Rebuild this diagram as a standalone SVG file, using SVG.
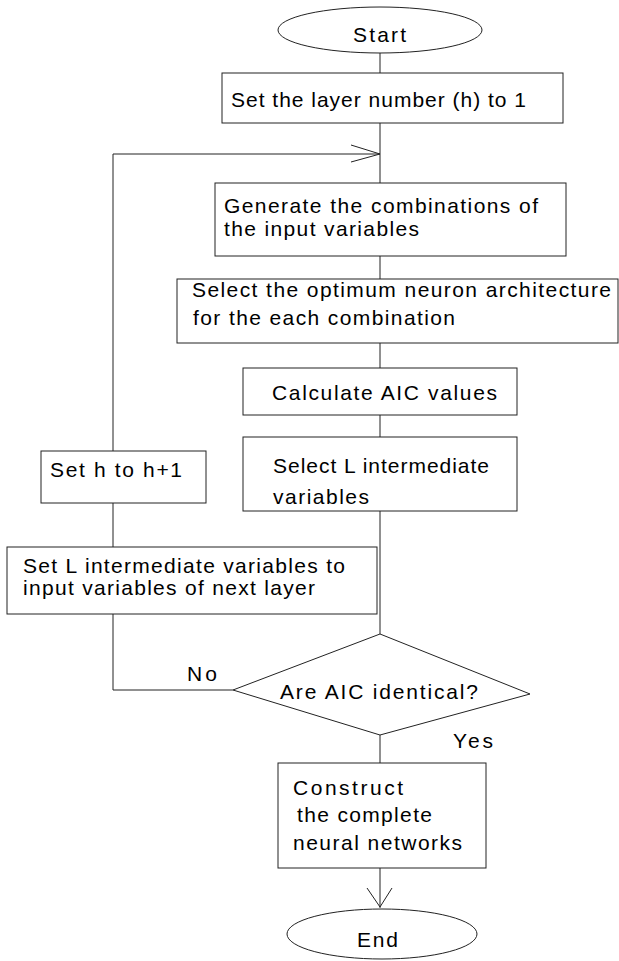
<svg xmlns="http://www.w3.org/2000/svg" width="619" height="961" viewBox="0 0 619 961">
<style>
.shape{fill:#fff;stroke:#222;stroke-width:1}
.conn{fill:none;stroke:#222;stroke-width:1}
text{font-family:"Liberation Sans",Arial,sans-serif;font-size:21px;fill:#000}
</style>
<rect width="619" height="961" fill="#fff"/>
<g id="connectors">
<line class="conn" x1="380" y1="53" x2="380" y2="73"/>
<line class="conn" x1="380" y1="123" x2="380" y2="183"/>
<line class="conn" x1="380" y1="256" x2="380" y2="279"/>
<line class="conn" x1="380" y1="343" x2="380" y2="368"/>
<line class="conn" x1="380" y1="415" x2="380" y2="437"/>
<line class="conn" x1="380" y1="511" x2="380" y2="634"/>
<line class="conn" x1="380" y1="735" x2="380" y2="763"/>
<line class="conn" x1="380" y1="868" x2="380" y2="908"/>
<polyline class="conn" points="367,888 380,907 392,888"/>
<polyline class="conn" points="233,690 113,690 113,614"/>
<line class="conn" x1="113" y1="547" x2="113" y2="503"/>
<polyline class="conn" points="113,451 113,154 380,154"/>
<polyline class="conn" points="351,145 380,154 351,162"/>
</g>
<g id="start">
<ellipse class="shape" cx="380" cy="30" rx="102" ry="23"/>
<text x="353" y="42" textLength="53">Start</text>
</g>
<g id="set-layer">
<rect class="shape" x="222" y="73" width="341" height="50"/>
<text x="231" y="107" textLength="295">Set the layer number (h) to 1</text>
</g>
<g id="generate">
<rect class="shape" x="215" y="183" width="351" height="73"/>
<text x="224" y="213" textLength="314">Generate the combinations of</text>
<text x="224" y="236" textLength="195">the input variables</text>
</g>
<g id="select-optimum">
<rect class="shape" x="177" y="279" width="441" height="64"/>
<text x="192" y="297" textLength="419">Select the optimum neuron architecture</text>
<text x="193" y="325" textLength="262">for the each combination</text>
</g>
<g id="calculate-aic">
<rect class="shape" x="243" y="368" width="274" height="47"/>
<text x="272" y="400" textLength="225">Calculate AIC values</text>
</g>
<g id="select-l">
<rect class="shape" x="243" y="437" width="274" height="74"/>
<text x="273" y="473" textLength="216">Select L intermediate</text>
<text x="273" y="504" textLength="96">variables</text>
</g>
<g id="set-h">
<rect class="shape" x="41" y="451" width="165" height="52"/>
<text x="50" y="477" textLength="132">Set h to h+1</text>
</g>
<g id="set-l-vars">
<rect class="shape" x="7" y="547" width="370" height="67"/>
<text x="23" y="573" textLength="322">Set L intermediate variables to</text>
<text x="23" y="595" textLength="292">input variables of next layer</text>
</g>
<g id="decision">
<polygon class="shape" points="380,634 530,694 380,735 233,690"/>
<text x="280" y="699" textLength="198">Are AIC identical?</text>
<text x="187" y="681" textLength="30">No</text>
<text x="453" y="748" textLength="40">Yes</text>
</g>
<g id="construct">
<rect class="shape" x="278" y="763" width="208" height="105"/>
<text x="293" y="795" textLength="110">Construct</text>
<text x="297" y="822" textLength="135">the complete</text>
<text x="293" y="850" textLength="169">neural networks</text>
</g>
<g id="end">
<ellipse class="shape" cx="382" cy="934" rx="95" ry="25"/>
<text x="357" y="947" textLength="41">End</text>
</g>
</svg>
